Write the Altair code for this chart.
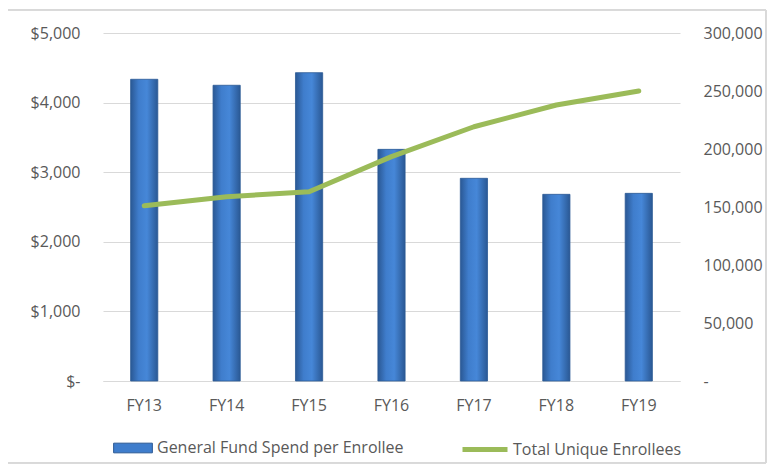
import altair as alt
import pandas as pd

years = ["FY13", "FY14", "FY15", "FY16", "FY17", "FY18", "FY19"]
spend = [4335, 4249, 4430, 3328, 2912, 2682, 2696]
enrollees = [151100, 158900, 163200, 193400, 219200, 237900, 250000]

bar_name = "General Fund Spend per Enrollee"
line_name = "Total Unique Enrollees"

df = pd.DataFrame({
    "year": years,
    "spend": spend,
    "enrollees": enrollees,
    "s1": [bar_name] * len(years),
    "s2": [line_name] * len(years),
})

FONT = "Open Sans"
GREY = "#595959"
W, H = 577, 348

xenc = alt.X("year:N", sort=years,
             scale=alt.Scale(paddingInner=0.67, paddingOuter=0.335),
             axis=alt.Axis(title=None, labelAngle=0, ticks=False, domain=True,
                           domainColor="#d9d9d9", labelPadding=16, grid=False))

yleft = alt.Y("spend:Q", scale=alt.Scale(domain=[0, 5000]),
              axis=alt.Axis(title=None, values=[0, 1000, 2000, 3000, 4000, 5000],
                            labelExpr="datum.value == 0 ? '$-\u00a0\u00a0\u00a0' : '$' + format(datum.value, ',')",
                            ticks=False, domain=False, labelPadding=23,
                            grid=True, gridColor="#d9d9d9"))

gradient = alt.Gradient(
    gradient="linear",
    stops=[alt.GradientStop(color="#2a5894", offset=0),
           alt.GradientStop(color="#3f7dcc", offset=0.3),
           alt.GradientStop(color="#4687d8", offset=0.6),
           alt.GradientStop(color="#2a5894", offset=1)],
    x1=0, x2=1, y1=0, y2=0)

bars = alt.Chart(df).mark_bar(color=gradient, stroke="#2c5a96", strokeWidth=0.8).encode(
    x=xenc, y=yleft)

bars_legend = alt.Chart(df).mark_bar(opacity=0).encode(
    x=xenc, y=yleft,
    color=alt.Color("s1:N", scale=alt.Scale(domain=[bar_name], range=["#3f7dcc"]),
                    legend=alt.Legend(title=None, orient="none", legendX=10, legendY=395,
                                      symbolType="M-1,-0.25H1V0.25H-1Z", symbolSize=1500,
                                      symbolOpacity=1, symbolStrokeColor="#2a5894",
                                      symbolStrokeWidth=1, labelOffset=4)))

line = alt.Chart(df).mark_line(strokeWidth=5, strokeCap="round", strokeJoin="round").encode(
    x=xenc,
    y=alt.Y("enrollees:Q", scale=alt.Scale(domain=[0, 300000]),
            axis=alt.Axis(title=None, orient="right",
                          values=[0, 50000, 100000, 150000, 200000, 250000, 300000],
                          labelExpr="datum.value == 0 ? '-' : format(datum.value, ',')",
                          ticks=False, domain=False, labelPadding=23, grid=False)),
    stroke=alt.Stroke("s2:N", scale=alt.Scale(domain=[line_name], range=["#9bbb59"]),
                      legend=alt.Legend(title=None, orient="none", legendX=357, legendY=391.5,
                                        symbolType="stroke", symbolSize=2025,
                                        symbolStrokeWidth=5, labelOffset=3)))

border = alt.Chart(df).mark_rect(fill=None, stroke="#d9d9d9", strokeWidth=1).encode(
    x=alt.value(-96), x2=alt.value(663), y=alt.value(-23), y2=alt.value(430))

left = alt.layer(bars_legend, bars)
chart = alt.layer(border, left, line).resolve_scale(y="independent").properties(
    width=W, height=H,
    autosize=alt.AutoSizeParams(type="none"),
    padding={"left": 95, "top": 25, "right": 87, "bottom": 84},
).configure_view(stroke=None).configure_axis(
    labelFont=FONT, labelFontSize=16, labelColor=GREY
).configure_legend(
    labelFont=FONT, labelFontSize=16, labelColor=GREY, labelLimit=400
)

chart.save("out.html", embed_options={"renderer": "svg", "actions": False})
